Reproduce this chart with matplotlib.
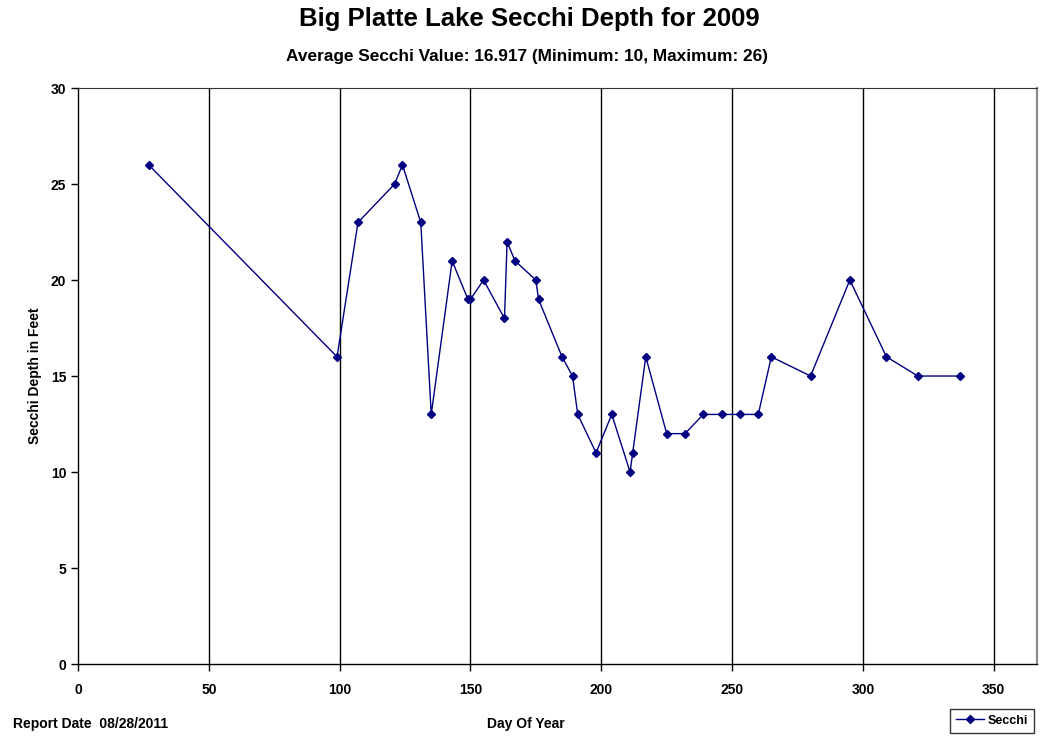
import matplotlib
matplotlib.use("Agg")
import matplotlib.pyplot as plt

# Dados
dias = [27, 99, 107, 121, 124, 131, 135, 143, 149, 150, 155, 163, 164, 167,
        175, 176, 185, 189, 191, 198, 204, 211, 212, 217, 225, 232, 239, 246,
        253, 260, 265, 280, 295, 309, 321, 337]
secchi = [26, 16, 23, 25, 26, 23, 13, 21, 19, 19, 20, 18, 22, 21,
          20, 19, 16, 15, 13, 11, 13, 10, 11, 16, 12, 12, 13, 13,
          13, 13, 16, 15, 20, 16, 15, 15]
xticks = [0, 50, 100, 150, 200, 250, 300, 350]
yticks = [0, 5, 10, 15, 20, 25, 30]

titulo = "Big Platte Lake Secchi Depth for 2009"
subtitulo = "Average Secchi Value: 16.917 (Minimum: 10, Maximum: 26)"

plt.rcParams['font.family'] = ['Liberation Sans', 'DejaVu Sans']
plt.rcParams['font.weight'] = 'bold'

fig = plt.figure(figsize=(10.42, 7.4), dpi=100)
ax = fig.add_axes([0.0749, 0.1027, 0.9202, 0.7783])

for xv in xticks[1:]:
    ax.axvline(xv, color='black', lw=1, zorder=1)

ax.plot(dias, secchi, color='#000080', lw=1, marker='D', markersize=4.5,
        label='Secchi', zorder=3)

ax.set_xlim(0, 366.5)
ax.set_ylim(0, 30)
ax.set_xticks(xticks)
ax.set_yticks(yticks)
ax.tick_params(axis='both', direction='out', length=5, labelsize=10, width=1)
ax.tick_params(axis='x', pad=9)
for lab in ax.get_xticklabels() + ax.get_yticklabels():
    lab.set_fontweight('bold')

for side in ['left', 'bottom']:
    ax.spines[side].set_color('black')
    ax.spines[side].set_linewidth(1)
ax.spines['top'].set_color('#333333')
ax.spines['right'].set_color('#888888')
ax.spines['right'].set_linewidth(1.5)

ax.set_ylabel("Secchi Depth in Feet", fontsize=10, fontweight='bold', labelpad=6)

fig.text(0.508, 0.974, titulo, ha='center', va='center', fontsize=18.5, fontweight='bold')
fig.text(0.506, 0.923, subtitulo, ha='center', va='center', fontsize=12.4, fontweight='bold')
fig.text(0.012, 0.021, "Report Date  08/28/2011", ha='left', va='center', fontsize=10, fontweight='bold')
fig.text(0.505, 0.021, "Day Of Year", ha='center', va='center', fontsize=10, fontweight='bold')

leg = ax.legend(loc='lower right', bbox_to_anchor=(0.9985, 0.001), bbox_transform=fig.transFigure,
                fontsize=9, frameon=True, fancybox=False, handlelength=2.2,
                handletextpad=0.3, borderpad=0.5, markerscale=0.8)
leg.get_frame().set_edgecolor('black')
leg.get_frame().set_linewidth(1)

fig.savefig("out.png", dpi=100)
